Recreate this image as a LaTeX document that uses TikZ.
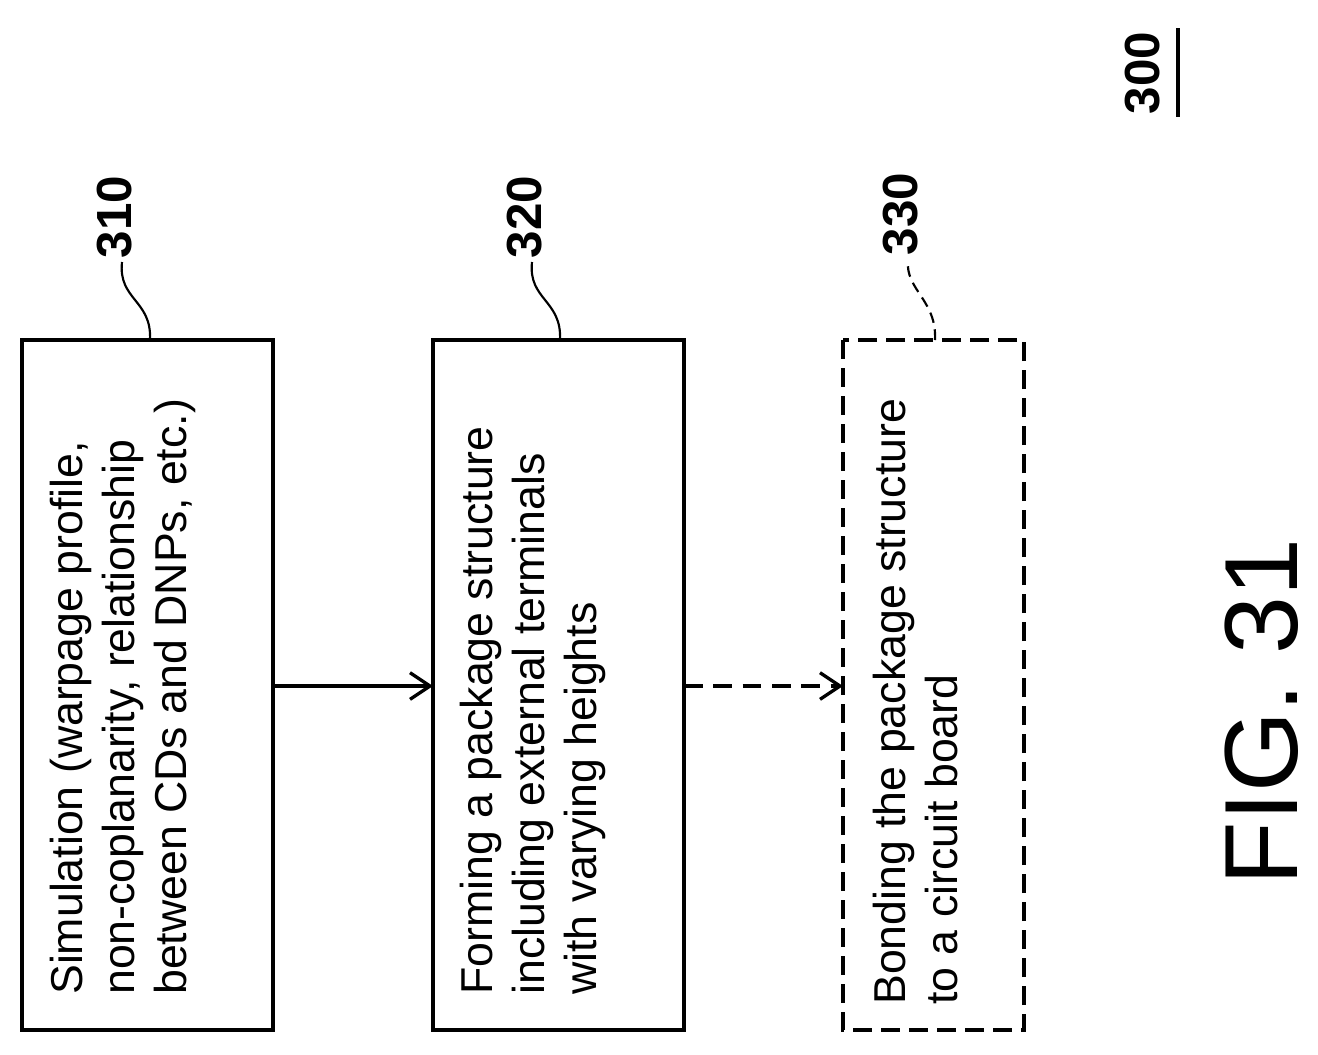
\documentclass[tikz,border=0pt]{standalone}
\usepackage{fontspec}
\setmainfont{Liberation Sans}
\usetikzlibrary{arrows.meta}
\begin{document}
\begin{tikzpicture}[x=0.75pt,y=-0.75pt,
 box/.style={line width=3pt},
 txt/.style={rotate=90,anchor=north west,inner sep=0pt,align=left,font=\fontsize{33.5}{39}\selectfont},
 lbl/.style={rotate=90,inner sep=0pt,font=\fontsize{37}{37}\selectfont\bfseries},
 arr/.style={line width=2.5pt,-{Straight Barb[length=15pt,width=20pt,line width=2.5pt]}},
 lead/.style={line width=1.6pt}]
\useasboundingbox (0,0) rectangle (1318,1054);
\draw[box] (22,340) rectangle (273,1030);
\draw[box] (433,340) rectangle (684,1030);
\draw[box,dash pattern=on 14pt off 7pt,line width=2.4pt] (843,340) rectangle (1024,1030);
\node[txt] (t1) at (50,995) {Simulation (warpage profile,\\non-coplanarity, relationship\\between CDs and DNPs, etc.)};
\node[txt] (t2) at (460,995) {Forming a package structure\\including external terminals\\with varying heights};
\node[txt] (t3) at (873,1005) {Bonding the package structure\\to a circuit board};
\coordinate (b1) at (273,686); \coordinate (b2l) at (433,686);
\coordinate (b2) at (684,686); \coordinate (b3l) at (843,686);
\draw[arr] (b1) -- (b2l);
\draw[arr,dash pattern=on 14pt off 8pt] (b2) -- (b3l);
\node[lbl] (l310) at (115,217) {310};
\node[lbl] (l320) at (525,217) {320};
\node[lbl] (l330) at (901,214) {330};
\coordinate (c1) at (150,340); \coordinate (c2) at (560,340); \coordinate (c3) at (935,340);
\draw[lead] (c1) .. controls (152,300) and (118,300) .. (122,262);
\draw[lead] (c2) .. controls (562,300) and (528,300) .. (532,262);
\draw[lead,dash pattern=on 8pt off 5pt] (c3) .. controls (937,300) and (905,290) .. (908,260);
\node[lbl] (l300) at (1143,73) {300};
\draw[line width=2.6pt] (1178,28) -- (1178,117);
\node[rotate=90,font=\fontsize{78}{78}\selectfont] (fig) at (1262,712) {FIG. 31};
\end{tikzpicture}
\end{document}
